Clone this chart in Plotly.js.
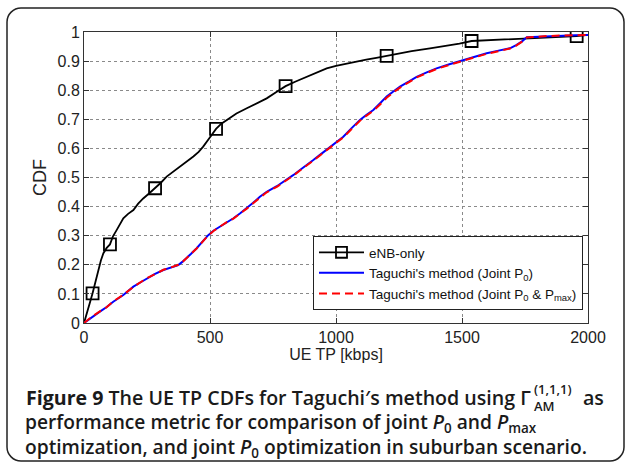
<!DOCTYPE html>
<html><head><meta charset="utf-8">
<script src="https://cdn.plot.ly/plotly-3.0.1.min.js"></script>
<style>body{margin:0;background:#fff}#chart{width:627px;height:466px}</style>
</head><body><div id="chart"></div>
<script>
// ---- data ----
const enbX = [0,12,25,34,45,57,67,77,90,103,115,130,143,156,175,196,215,235,258,282,305,328,355,381,408,434,455,473,495,524,545,566,605,646,685,725,762,800,840,884,925,963,1000,1042,1080,1120,1160,1201,1250,1300,1373,1430,1490,1538,1590,1638,1690,1743,1800,1860,1910,1955,2000];
const enbY = [0,0.04,0.075,0.102,0.14,0.182,0.215,0.24,0.258,0.27,0.298,0.32,0.342,0.36,0.375,0.388,0.41,0.428,0.445,0.463,0.482,0.503,0.52,0.537,0.553,0.572,0.588,0.606,0.632,0.667,0.685,0.698,0.72,0.738,0.756,0.772,0.793,0.814,0.83,0.846,0.862,0.875,0.884,0.892,0.899,0.905,0.911,0.918,0.926,0.934,0.944,0.951,0.96,0.969,0.971,0.972,0.975,0.978,0.98,0.982,0.984,0.986,0.99];
const enbMarkX = [34,103,282,524,800,1201,1538,1955];
const enbMarkY = [0.102,0.27,0.463,0.667,0.814,0.918,0.969,0.986];

const p0X = [0,30,63,90,116,156,196,225,249,280,315,345,374,390,407,425,447,470,493,515,540,565,593,620,646,670,698,725,765,804,830,857,885,910,935,963,990,1016,1029,1060,1095,1120,1148,1175,1201,1230,1254,1290,1320,1360,1399,1450,1505,1550,1598,1645,1690,1715,1737,1757,1800,1836,1900,1950,2000];
const p0Y = [0,0.02,0.039,0.055,0.073,0.096,0.125,0.14,0.153,0.168,0.182,0.19,0.199,0.21,0.222,0.238,0.257,0.28,0.302,0.318,0.331,0.345,0.36,0.377,0.394,0.412,0.434,0.451,0.47,0.491,0.508,0.526,0.543,0.56,0.577,0.595,0.612,0.629,0.64,0.668,0.698,0.715,0.732,0.755,0.778,0.797,0.812,0.83,0.846,0.861,0.875,0.889,0.904,0.915,0.927,0.936,0.944,0.955,0.967,0.982,0.984,0.986,0.988,0.989,0.99];

const pmX = [0,30,63,90,116,156,196,225,249,280,315,345,374,390,407,425,447,470,493,515,540,565,593,620,646,670,698,725,765,804,830,857,885,910,935,963,990,1016,1029,1060,1095,1120,1148,1175,1201,1230,1254,1290,1320,1360,1399,1450,1505,1550,1598,1645,1690,1715,1737,1757,1800,1836,1900,1950,2000];
const pmY = [0,0.021,0.04,0.054,0.074,0.097,0.124,0.141,0.154,0.167,0.183,0.191,0.2,0.209,0.223,0.239,0.256,0.279,0.301,0.317,0.332,0.346,0.359,0.376,0.393,0.411,0.432,0.449,0.468,0.489,0.506,0.524,0.541,0.558,0.575,0.593,0.61,0.627,0.638,0.665,0.695,0.712,0.729,0.751,0.774,0.794,0.809,0.828,0.844,0.859,0.873,0.887,0.902,0.913,0.925,0.934,0.943,0.953,0.966,0.981,0.984,0.986,0.988,0.989,0.99];

const seriesNames = ["eNB-only", "Taguchi's method (Joint P<sub>0</sub>)", "Taguchi's method (Joint P<sub>0</sub> &amp; P<sub>max</sub>)"];
const xTickVals = [0,500,1000,1500,2000];
const yTickVals = [0,0.1,0.2,0.3,0.4,0.5,0.6,0.7,0.8,0.9,1];
const yTickText = ["0","0.1","0.2","0.3","0.4","0.5","0.6","0.7","0.8","0.9","1"];
const captionLine1 = "<b>Figure 9</b> The UE TP CDFs for Taguchi′s method using Γ";
const captionSupSub = "(1,1,1)<br>AM";
const captionLine1End = "as";
const captionLines23 = "performance metric for comparison of joint <i>P</i><sub>0</sub> and <i>P</i><sub>max</sub><br>optimization, and joint <i>P</i><sub>0</sub> optimization in suburban scenario.";

// ---- layout geometry (pixels) ----
const W = 627, H = 466, L = 84, R = 588, T = 32, B = 323;
const px = X => (X - L) / (R - L);
const py = Y => (B - Y) / (B - T);

function framePath(x0, y0, x1, y1, r) {
  const k = 0.45;
  const p = (X, Y) => px(X) + ',' + py(Y);
  return 'M' + p(x0 + r, y0) + ' L' + p(x1 - r, y0) +
    ' C' + p(x1 - r * k, y0) + ' ' + p(x1, y0 + r * k) + ' ' + p(x1, y0 + r) +
    ' L' + p(x1, y1 - r) +
    ' C' + p(x1, y1 - r * k) + ' ' + p(x1 - r * k, y1) + ' ' + p(x1 - r, y1) +
    ' L' + p(x0 + r, y1) +
    ' C' + p(x0 + r * k, y1) + ' ' + p(x0, y1 - r * k) + ' ' + p(x0, y1 - r) +
    ' L' + p(x0, y0 + r) +
    ' C' + p(x0, y0 + r * k) + ' ' + p(x0 + r * k, y0) + ' ' + p(x0 + r, y0) + ' Z';
}

const traces = [
  {x: enbX, y: enbY, mode: 'lines', line: {color: '#000', width: 1.8}, showlegend: false, hoverinfo: 'skip'},
  {x: enbMarkX, y: enbMarkY, mode: 'markers', marker: {symbol: 'square-open', size: 12, color: '#000', line: {width: 1.8, color: '#000'}}, showlegend: false, hoverinfo: 'skip'},
  {x: [null], y: [null], name: seriesNames[0], mode: 'lines+markers', line: {color: '#000', width: 1.8}, marker: {symbol: 'square-open', size: 11, color: '#000', line: {width: 1.8, color: '#000'}}},
  {x: p0X, y: p0Y, name: seriesNames[1], mode: 'lines', line: {color: '#0000ff', width: 2}},
  {x: pmX, y: pmY, name: seriesNames[2], mode: 'lines', line: {color: '#ff0000', width: 2, dash: '8px,5px'}}
];

const capFont = s => ({family: 'Open Sans', size: s, color: '#1a1a1a', weight: 600});
const ann = (text, X, Y, xa, size) => ({text: text, xref: 'paper', yref: 'paper', x: px(X), y: py(Y),
  xanchor: xa, yanchor: 'middle', showarrow: false, align: 'left', font: capFont(size), borderpad: 0});
const annotations = [
  ann(captionLine1, 532, 397, 'right', 19.6),
  ann(captionSupSub, 533, 397, 'left', 13),
  ann(captionLine1End, 582, 397, 'left', 19.6),
  ann(captionLines23, 24, 435, 'left', 19.2)
];

const axisFont = {family: 'Arial, Liberation Sans', size: 16, color: '#222'};
const axisCommon = {
  showline: true, linecolor: '#333', linewidth: 1, mirror: 'ticks',
  ticks: 'inside', ticklen: 5, tickcolor: '#333',
  showgrid: true, gridcolor: '#8a8a8a', griddash: 'dot', gridwidth: 1,
  zeroline: false, tickfont: axisFont
};

const layout = {
  width: W, height: H,
  margin: {l: L, r: W - R, t: T, b: H - B},
  paper_bgcolor: '#fff', plot_bgcolor: '#fff',
  xaxis: Object.assign({}, axisCommon, {range: [0, 2000], tickvals: xTickVals, ticktext: xTickVals.map(String),
    title: {text: 'UE TP [kbps]', font: axisFont, standoff: 2}}),
  yaxis: Object.assign({}, axisCommon, {range: [0, 1], tickvals: yTickVals, ticktext: yTickText,
    title: {text: 'CDF', font: {family: 'Arial, Liberation Sans', size: 18, color: '#222'}, standoff: 6}}),
  legend: {x: px(313), y: py(236), xanchor: 'left', yanchor: 'top', bgcolor: '#fff',
    bordercolor: '#222', borderwidth: 1, font: {family: 'Arial, Liberation Sans', size: 13.5, color: '#111'},
    tracegroupgap: 0, itemwidth: 45},
  shapes: [{type: 'path', xref: 'paper', yref: 'paper', path: framePath(7, 8, 624, 461, 14),
    line: {color: '#222', width: 1.5}, fillcolor: 'rgba(0,0,0,0)', layer: 'below'}],
  annotations: annotations
};

Plotly.newPlot('chart', traces, layout, {displayModeBar: false, staticPlot: true});
</script>
</body></html>
